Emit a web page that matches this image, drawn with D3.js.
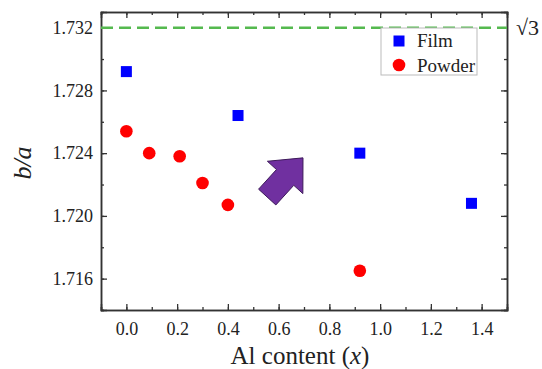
<!DOCTYPE html>
<html>
<head>
<meta charset="utf-8">
<script src="https://cdn.jsdelivr.net/npm/d3@7"></script>
<style>
  body { margin: 0; background: #fff; }
  svg { display: block; }
  svg text { font-family: "Liberation Serif", "Times New Roman", serif; }
</style>
</head>
<body>
<svg id="chart" width="542" height="369"></svg>
<script>
// data
const filmX = [0, 0.44, 0.92, 1.36]
const filmY = [1.7292, 1.7264, 1.7240, 1.7208]
const powderX = [0, 0.09, 0.21, 0.30, 0.40, 0.92]
const powderY = [1.7254, 1.7240, 1.7238, 1.7221, 1.7207, 1.7165]
const xTicks = [0, 0.2, 0.4, 0.6, 0.8, 1.0, 1.2, 1.4]
const yTicks = [1.716, 1.720, 1.724, 1.728, 1.732]
const sqrt3 = 1.732
// arrow annotation, tail centre -> tip in data units
const arrowFrom = [0.555, 1.7212]
const arrowTo = [0.696, 1.7237]

const margin = { top: 12, right: 35, bottom: 59, left: 101 }
const width = 542 - margin.left - margin.right
const height = 369 - margin.top - margin.bottom
const serif = '"Liberation Serif", "Times New Roman", serif'

const svg = d3.select('#chart')
const g = svg.append('g').attr('transform', `translate(${margin.left},${margin.top})`)

const x = d3.scaleLinear().domain([-0.1, 1.5]).range([0, width])
const y = d3.scaleLinear().domain([1.714, 1.733]).range([height, 0])

const axisColor = '#333'
const minorX = d3.range(-0.1, 1.5001, 0.1).map(v => +v.toFixed(2))
const minorY = d3.range(1.714, 1.7331, 0.002).map(v => +v.toFixed(3))

function styleAxis(sel) {
    sel.attr('font-family', serif).attr('font-size', 18)
    sel.select('.domain').attr('stroke', axisColor).attr('stroke-width', 1.5)
    sel.selectAll('.tick line').attr('stroke', axisColor).attr('stroke-width', 1.3)
    sel.selectAll('.tick text').attr('fill', '#222')
        .style('font-family', serif).style('font-size', '18px')
}

// minor ticks (inward)
g.append('g').attr('transform', `translate(0,${height})`)
    .call(d3.axisBottom(x).tickValues(minorX).tickSize(-3).tickFormat(''))
    .call(styleAxis)
g.append('g').attr('transform', `translate(0,0)`)
    .call(d3.axisTop(x).tickValues(minorX).tickSize(-3).tickFormat(''))
    .call(styleAxis)
g.append('g')
    .call(d3.axisLeft(y).tickValues(minorY).tickSize(-3).tickFormat(''))
    .call(styleAxis)
g.append('g').attr('transform', `translate(${width},0)`)
    .call(d3.axisRight(y).tickValues(minorY).tickSize(-3).tickFormat(''))
    .call(styleAxis)

// major ticks
g.append('g').attr('transform', `translate(0,${height})`)
    .call(d3.axisBottom(x).tickValues(xTicks).tickSize(-6).tickPadding(12).tickFormat(d3.format('.1f')))
    .call(styleAxis)
g.append('g')
    .call(d3.axisTop(x).tickValues(xTicks).tickSize(-6).tickFormat(''))
    .call(styleAxis)
g.append('g')
    .call(d3.axisLeft(y).tickValues(yTicks).tickSize(-6).tickPadding(8).tickFormat(d3.format('.3f')))
    .call(styleAxis)
g.append('g').attr('transform', `translate(${width},0)`)
    .call(d3.axisRight(y).tickValues(yTicks).tickSize(-6).tickFormat(''))
    .call(styleAxis)

// sqrt(3) reference
g.append('line')
    .attr('x1', 0).attr('x2', width)
    .attr('y1', y(sqrt3)).attr('y2', y(sqrt3))
    .attr('stroke', '#55b94f').attr('stroke-width', 2.5)
    .attr('stroke-dasharray', '12,6')
g.append('text')
    .attr('x', width + 9).attr('y', y(sqrt3) + 7)
    .style('font-size', '22px').attr('fill', '#222')
    .text('√3')

// arrow
const p0 = [x(arrowFrom[0]), y(arrowFrom[1])]
const p1 = [x(arrowTo[0]), y(arrowTo[1])]
const ang = Math.atan2(p1[1] - p0[1], p1[0] - p0[0])
const len = Math.hypot(p1[0] - p0[0], p1[1] - p0[1])
const shaftW = 11.7, headW = 24, headL = 26.5
const local = [[0, -shaftW], [len - headL, -shaftW], [len - headL, -headW], [len, 0],
    [len - headL, headW], [len - headL, shaftW], [0, shaftW]]
const pts = local.map(([u, v]) => [
    p0[0] + u * Math.cos(ang) - v * Math.sin(ang),
    p0[1] + u * Math.sin(ang) + v * Math.cos(ang)
])
g.append('path')
    .attr('d', d3.line()(pts) + 'Z')
    .attr('fill', '#7030a0')
    .attr('stroke', '#3d1a5a').attr('stroke-width', 1)

// points
const film = filmX.map((v, i) => ({ x: v, y: filmY[i] }))
const powder = powderX.map((v, i) => ({ x: v, y: powderY[i] }))
const sq = 11
g.selectAll('.film').data(film).enter().append('rect')
    .attr('class', 'film')
    .attr('x', d => x(d.x) - sq / 2).attr('y', d => y(d.y) - sq / 2)
    .attr('width', sq).attr('height', sq)
    .attr('fill', '#0000ff')
g.selectAll('.powder').data(powder).enter().append('circle')
    .attr('class', 'powder')
    .attr('cx', d => x(d.x)).attr('cy', d => y(d.y))
    .attr('r', 6.3)
    .attr('fill', '#ff0000')

// legend
const lg = svg.append('g').attr('transform', 'translate(381,28)')
lg.append('rect')
    .attr('width', 96).attr('height', 47)
    .attr('fill', '#fff').attr('stroke', '#bbb').attr('stroke-width', 1)
lg.append('rect').attr('x', 18 - sq / 2).attr('y', 13 - sq / 2)
    .attr('width', sq).attr('height', sq).attr('fill', '#0000ff')
lg.append('circle').attr('cx', 18).attr('cy', 37).attr('r', 6.3).attr('fill', '#ff0000')
lg.append('text').attr('x', 36).attr('y', 19).style('font-size', '19px').attr('fill', '#222').text('Film')
lg.append('text').attr('x', 36).attr('y', 44).style('font-size', '19px').attr('fill', '#222').text('Powder')

// axis titles
svg.append('text')
    .attr('x', margin.left + width / 2 - 4).attr('y', 364)
    .attr('text-anchor', 'middle')
    .style('font-size', '25px').attr('fill', '#222')
    .html('Al content (<tspan font-style="italic">x</tspan>)')
svg.append('text')
    .attr('transform', `translate(31,${margin.top + height / 2 + 2}) rotate(-90)`)
    .attr('text-anchor', 'middle')
    .style('font-size', '26px').style('font-style', 'italic').attr('fill', '#222')
    .text('b/a')
</script>
</body>
</html>
